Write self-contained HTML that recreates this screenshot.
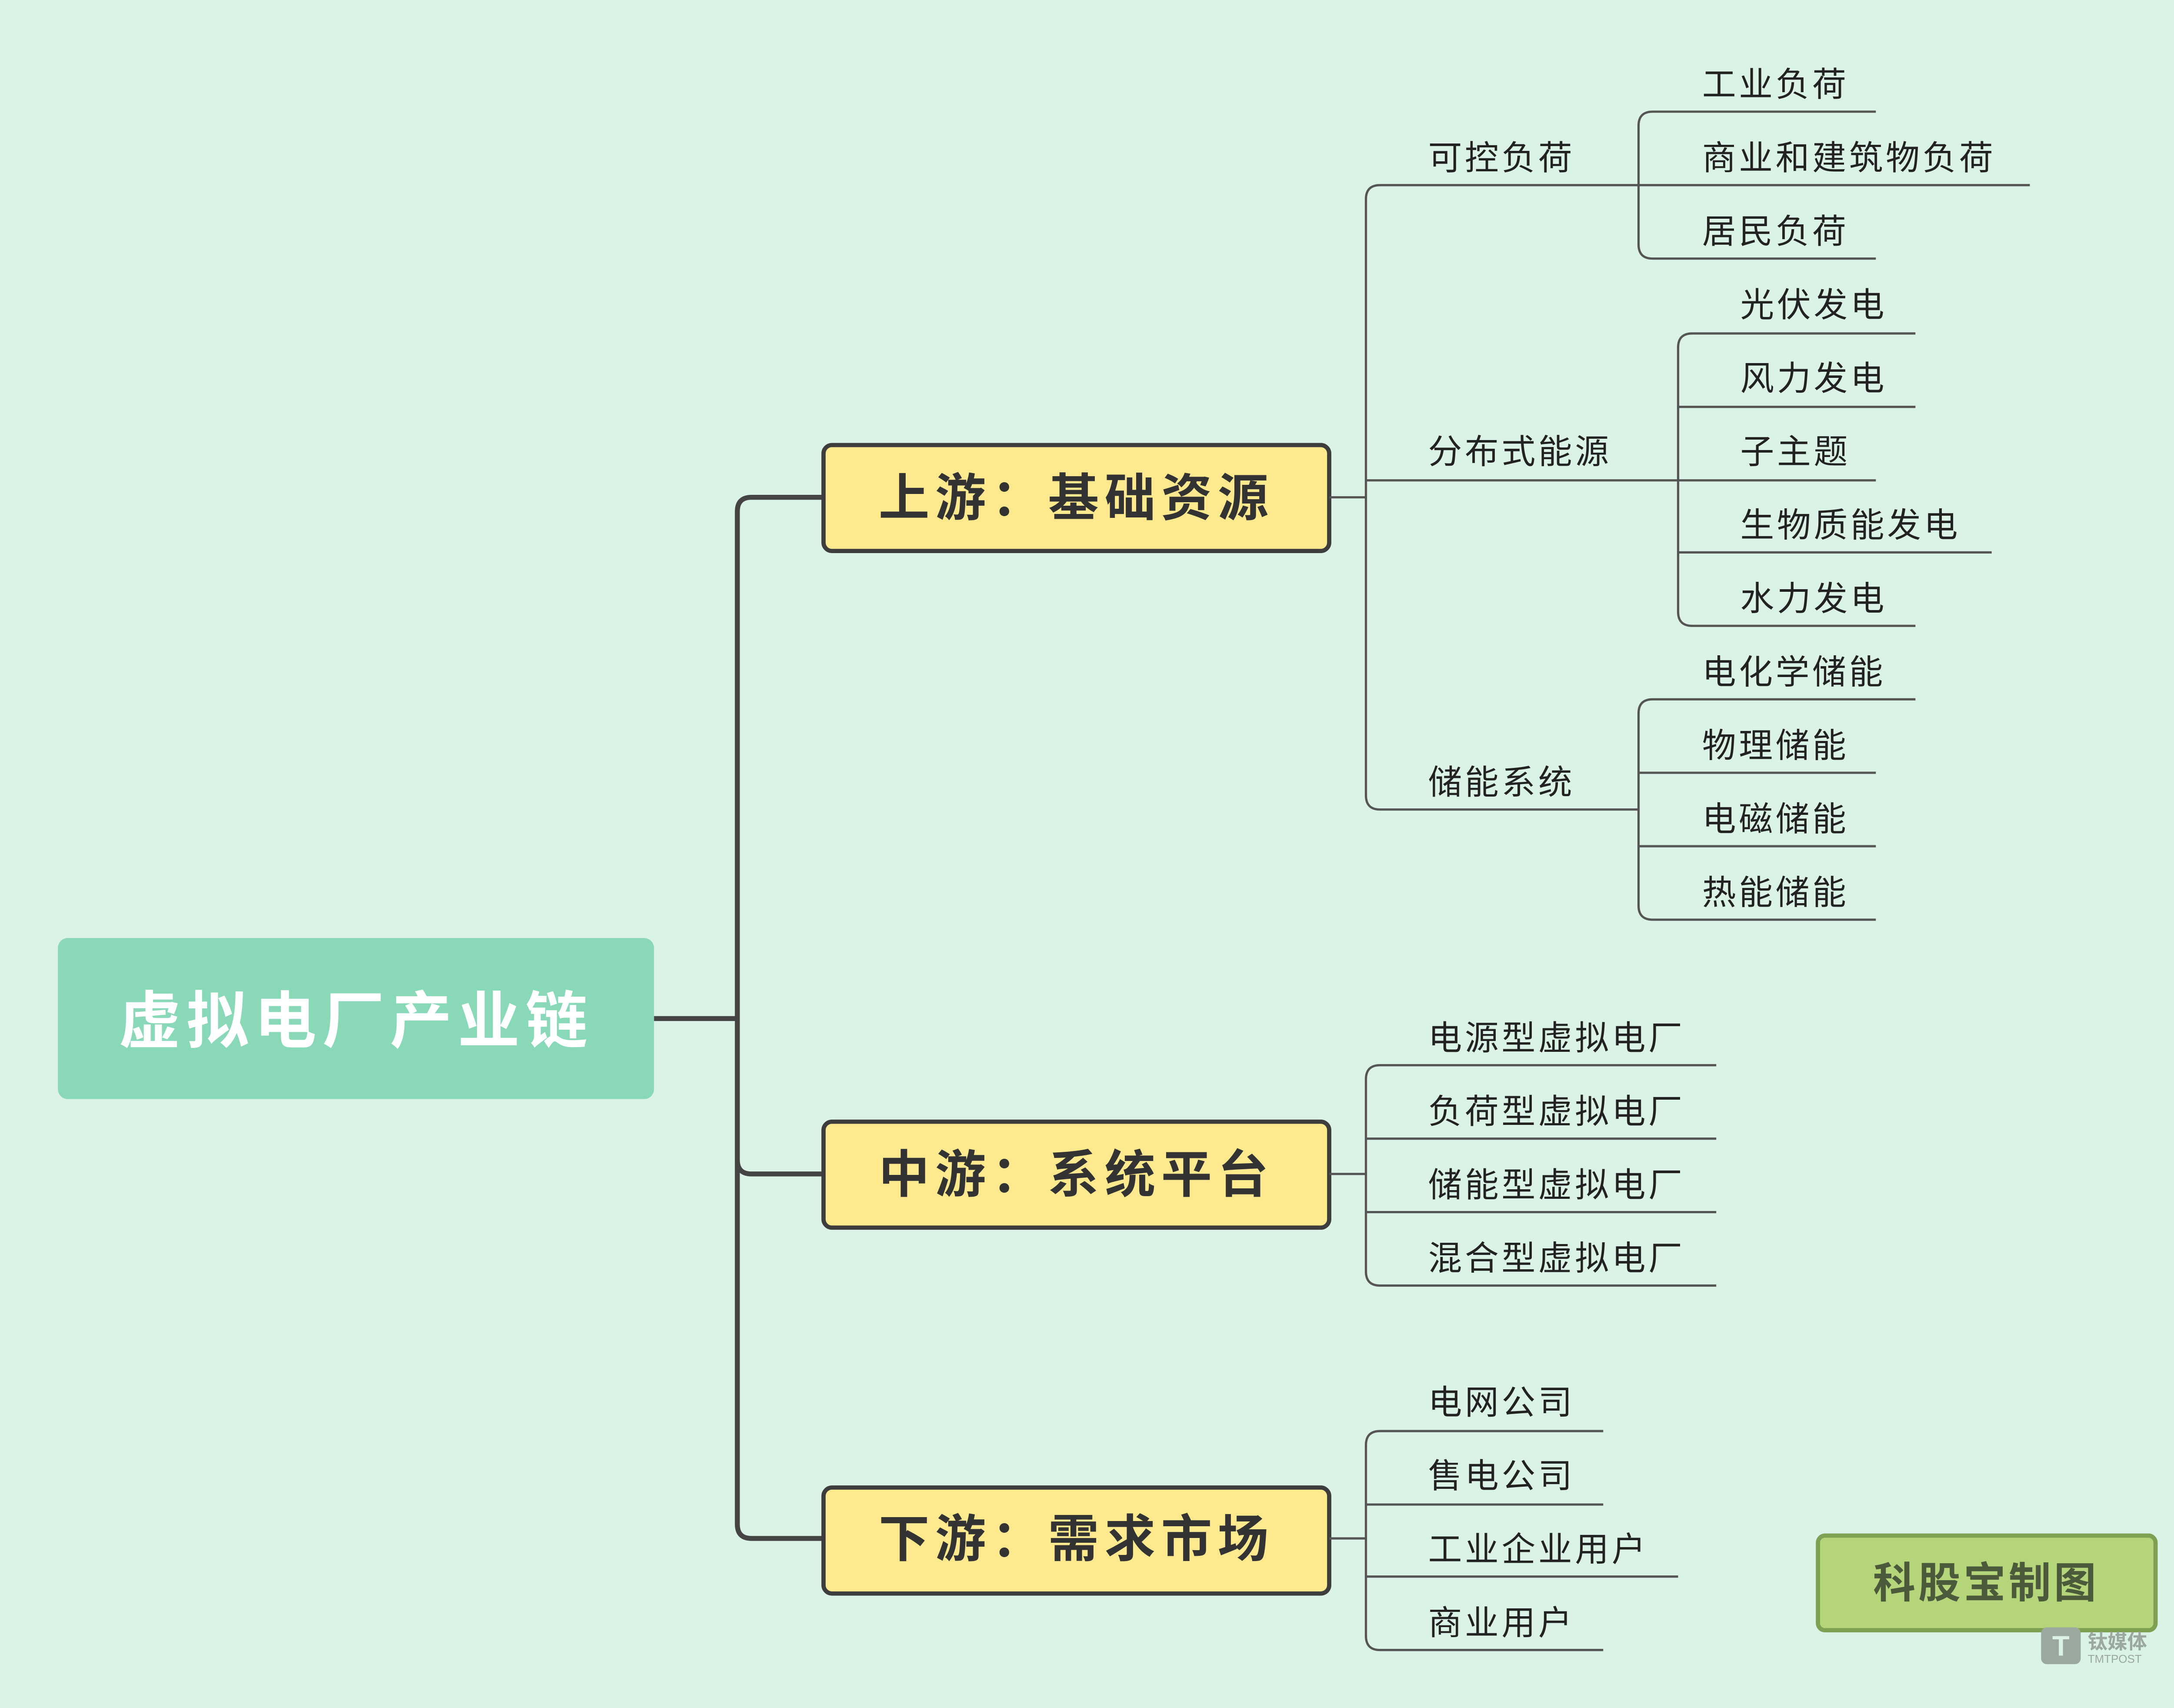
<!DOCTYPE html>
<html><head><meta charset="utf-8">
<style>
html,body{margin:0;padding:0;background:#dbf2e6;}
svg{display:block;}
text{font-family:"Liberation Sans","Noto Sans CJK SC",sans-serif;}
</style></head>
<body>
<svg width="5094" height="3928" viewBox="0 0 1568 1209" xmlns="http://www.w3.org/2000/svg">
<rect width="1568" height="1209" fill="#dbf2e6"/>
<!-- main connectors -->
<g fill="none" stroke="#444" stroke-width="3.5">
<path d="M463 721 H522"/>
<path d="M583 352 H532 Q522 352 522 362 V1079 Q522 1089 532 1089 H583"/>
<path d="M522 821 Q522 831 532 831 H583"/>
</g>
<!-- root -->
<rect x="41" y="664" width="422" height="114" rx="7" fill="#89d9b9"/>
<text x="252" y="738" text-anchor="middle" font-size="44" font-weight="bold" fill="#fff" letter-spacing="4">虚拟电厂产业链</text>
<!-- level1 boxes -->
<g stroke="#3d3d3d" stroke-width="3" fill="#ffe98f">
<rect x="583" y="315" width="358" height="75" rx="6"/>
<rect x="583" y="794" width="358" height="75" rx="6"/>
<rect x="583" y="1053" width="358" height="75" rx="6"/>
</g>
<g font-size="36" font-weight="bold" fill="#333" text-anchor="middle" letter-spacing="4">
<text x="762" y="365">上游：基础资源</text>
<text x="762" y="844">中游：系统平台</text>
<text x="762" y="1102">下游：需求市场</text>
</g>
<!-- thin connectors -->
<g fill="none" stroke="#555" stroke-width="1.6">
<path d="M941 352 H967"/>
<path d="M1160 131 H977 Q967 131 967 141 V563 Q967 573 977 573 H1160"/>
<path d="M967 340 H1188"/>
<!-- 可控负荷 -->
<path d="M1328 79 H1170 Q1160 79 1160 89 V173 Q1160 183 1170 183 H1328"/>
<path d="M1160 131 H1437"/>
<!-- 分布式 -->
<path d="M1356 236 H1198 Q1188 236 1188 246 V433 Q1188 443 1198 443 H1356"/>
<path d="M1188 288 H1356"/><path d="M1188 340 H1328"/><path d="M1188 391 H1410"/>
<!-- 储能 -->
<path d="M1356 495 H1170 Q1160 495 1160 505 V641 Q1160 651 1170 651 H1328"/>
<path d="M1160 547 H1328"/><path d="M1160 599 H1328"/>
<!-- 中游 -->
<path d="M941 831 H967"/>
<path d="M1215 754 H977 Q967 754 967 764 V900 Q967 910 977 910 H1215"/>
<path d="M967 806 H1215"/><path d="M967 858 H1215"/>
<!-- 下游 -->
<path d="M941 1089 H967"/>
<path d="M1135 1013 H977 Q967 1013 967 1023 V1158 Q967 1168 977 1168 H1135"/>
<path d="M967 1065 H1135"/><path d="M967 1116 H1188"/>
</g>
<g font-size="24" fill="#222" letter-spacing="2">
<text x="1011" y="120">可控负荷</text>
<text x="1011" y="328">分布式能源</text>
<text x="1011" y="562">储能系统</text>
<text x="1205" y="68">工业负荷</text>
<text x="1205" y="120">商业和建筑物负荷</text>
<text x="1205" y="172">居民负荷</text>
<text x="1232" y="224">光伏发电</text>
<text x="1232" y="276">风力发电</text>
<text x="1232" y="328">子主题</text>
<text x="1232" y="380">生物质能发电</text>
<text x="1232" y="432">水力发电</text>
<text x="1205" y="484">电化学储能</text>
<text x="1205" y="536">物理储能</text>
<text x="1205" y="588">电磁储能</text>
<text x="1205" y="640">热能储能</text>
<text x="1011" y="743">电源型虚拟电厂</text>
<text x="1011" y="795">负荷型虚拟电厂</text>
<text x="1011" y="847">储能型虚拟电厂</text>
<text x="1011" y="899">混合型虚拟电厂</text>
<text x="1011" y="1001">电网公司</text>
<text x="1011" y="1053">售电公司</text>
<text x="1011" y="1105">工业企业用户</text>
<text x="1011" y="1157">商业用户</text>
</g>
<!-- watermark -->
<rect x="1287" y="1087" width="239" height="67" rx="5" fill="#b4d57a" stroke="#7f9f52" stroke-width="3"/>
<text x="1406" y="1131" text-anchor="middle" font-size="30" font-weight="bold" fill="#4a5a3a" letter-spacing="2">科股宝制图</text>
<rect x="1445" y="1152" width="28" height="26" rx="4" fill="#9aa8a0"/>
<text x="1459" y="1172" text-anchor="middle" font-size="20" font-weight="bold" fill="#dbf2e6">T</text>
<text x="1478" y="1167" font-size="14" font-weight="bold" fill="#9aa8a0">钛媒体</text>
<text x="1478" y="1177" font-size="8" fill="#9aa8a0">TMTPOST</text>
</svg>
</body></html>
